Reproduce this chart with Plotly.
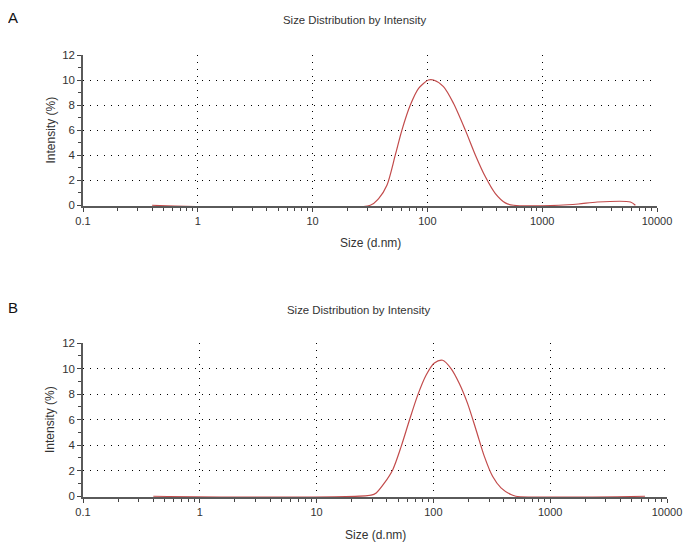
import plotly.graph_objects as go
from plotly.subplots import make_subplots

# Sample A: size (d.nm) vs intensity (%)
size_a = [0.4, 31.8, 37.6, 44.4, 52.5, 60, 71, 83.8, 102, 113, 138, 169, 214,
          262, 320, 391, 477, 565, 1400, 2070, 3020, 5870, 6480]
intensity_a = [0, 0, 0.53, 1.6, 4.0, 6.0, 8.0, 9.33, 10.0, 10.0, 9.47, 8.13, 6.0,
               4.0, 2.27, 0.93, 0.19, 0, 0, 0.1, 0.26, 0.26, 0]

# Sample B
size_b = [0.4, 29.3, 32.4, 38.1, 44.9, 53, 62.4, 73.4, 86.5, 102, 120, 141.6,
          166.7, 196, 232, 273, 321, 379, 461, 508, 6480]
intensity_b = [0, 0.08, 0.26, 1.04, 2.08, 3.9, 5.97, 7.92, 9.48, 10.44, 10.65, 10.0,
               8.83, 7.27, 5.19, 3.12, 1.56, 0.65, 0.13, 0, 0]

x_ticks = [0.1, 1, 10, 100, 1000, 10000]
x_ticktext = ["0.1", "1", "10", "100", "1000", "10000"]
y_ticks = [0, 2, 4, 6, 8, 10, 12]

# the page body has an 8px margin, so the figure is sized to fill the rest
OFF = 8
W, H = 700 - OFF, 552 - OFF
FONT = "Liberation Sans, Arial, sans-serif"
TXT = "#333333"
CURVE = "#c24b4b"


def px(x):
    return (x - OFF) / W


def py(y):
    return 1 - (y - OFF) / H


minor_x = [m * 10 ** e for e in range(-1, 4) for m in range(2, 10)]

fig = make_subplots(rows=2, cols=1)

fig.add_trace(go.Scatter(x=size_a, y=intensity_a, mode="lines",
                         line=dict(color=CURVE, width=1.2, shape="spline", smoothing=0.8),
                         hoverinfo="x+y", showlegend=False), row=1, col=1)
fig.add_trace(go.Scatter(x=size_b, y=intensity_b, mode="lines",
                         line=dict(color=CURVE, width=1.2, shape="spline", smoothing=0.8),
                         hoverinfo="x+y", showlegend=False), row=2, col=1)

# panel boxes in screen pixels: (left, right, top, bottom)
panels = [(83, 657, 55, 206), (83, 667, 343, 497)]

for i, (l, r, t, b) in enumerate(panels, start=1):
    xa = "xaxis" if i == 1 else f"xaxis{i}"
    ya = "yaxis" if i == 1 else f"yaxis{i}"
    fig.layout[xa].update(
        type="log", range=[-1, 4], domain=[px(l), px(r)], automargin=False,
        tickvals=x_ticks, ticktext=x_ticktext, layer="below traces",
        ticks="outside", ticklen=4, tickcolor="#444", tickwidth=1,
        minor=dict(tickvals=minor_x, ticks="outside", ticklen=3,
                   tickcolor="#444", showgrid=False),
        showline=True, linecolor="#5a5a5a", linewidth=1.5,
        showgrid=True, gridcolor="black", gridwidth=1, griddash="1px,6px",
        zeroline=False, tickfont=dict(family=FONT, size=11, color=TXT),
    )
    fig.layout[ya].update(
        range=[-0.06, 12], domain=[py(b), py(t)], automargin=False,
        tickvals=y_ticks, ticks="outside", ticklen=4, tickcolor="#444",
        minor=dict(dtick=1, ticks="outside", ticklen=3, tickcolor="#444",
                   showgrid=False),
        showline=True, linecolor="#5a5a5a", linewidth=1.5,
        showgrid=True, gridcolor="black", gridwidth=1, griddash="1px,6px",
        zeroline=False, tickfont=dict(family=FONT, size=11.5, color=TXT),
    )

annotations = []
for (l, r, t, b), letter, tx, ty, xt_y in [
        (panels[0], "A", 354, 20, 243),
        (panels[1], "B", 358, 310, 535)]:
    annotations += [
        dict(text=letter, x=px(13), y=py(ty - 3), font=dict(family=FONT, size=15, color="#111")),
        dict(text="Size Distribution by Intensity", x=px(tx), y=py(ty),
             font=dict(family=FONT, size=11.4, color=TXT)),
        dict(text="Size (d.nm)", x=px((l + r) / 2), y=py(xt_y),
             font=dict(family=FONT, size=12, color=TXT)),
        dict(text="Intensity (%)", x=px(50), y=py((t + b) / 2), textangle=-90,
             font=dict(family=FONT, size=12, color=TXT)),
    ]
for a in annotations:
    a.update(xref="paper", yref="paper", showarrow=False,
             xanchor="center", yanchor="middle")

fig.update_layout(
    width=W, height=H,
    margin=dict(l=0, r=0, t=0, b=0, pad=0, autoexpand=False),
    plot_bgcolor="white", paper_bgcolor="white",
    annotations=annotations,
    showlegend=False,
)

fig.write_html("out.html")
